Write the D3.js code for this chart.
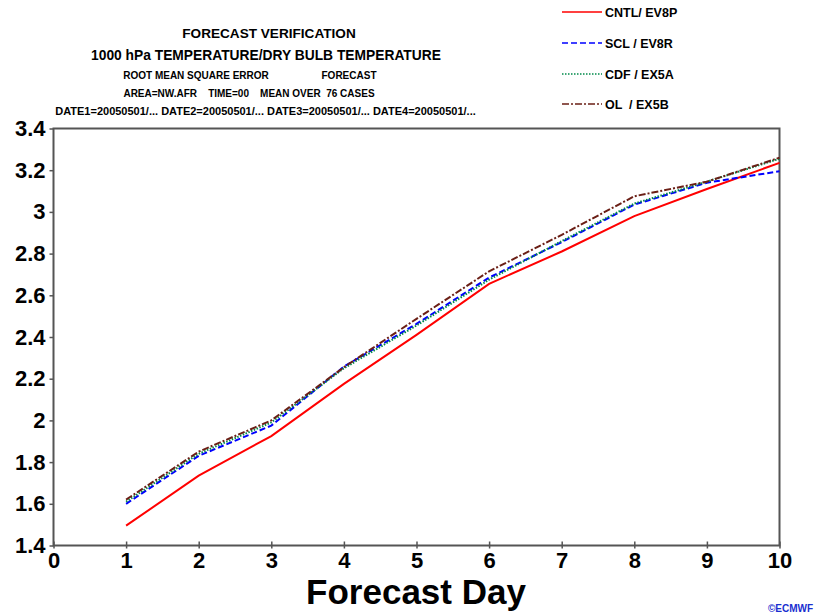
<!DOCTYPE html>
<html><head><meta charset="utf-8">
<script src="https://cdn.jsdelivr.net/npm/d3@7"></script>
<style>body{margin:0;background:#fff;} svg{display:block;font-family:"Liberation Sans",Arial,Helvetica,sans-serif;}</style>
</head><body><svg id="c" width="834" height="614"></svg>
<script>
const days = [1,2,3,4,5,6,7,8,9,10];
const cntl = [1.495,1.735,1.925,2.175,2.41,2.655,2.81,2.98,3.11,3.235];
const scl  = [1.60,1.83,1.975,2.258,2.463,2.685,2.855,3.035,3.14,3.195];
const cdf  = [1.61,1.84,1.99,2.25,2.455,2.675,2.86,3.04,3.145,3.255];
const ol   = [1.62,1.85,2.00,2.255,2.487,2.715,2.89,3.075,3.145,3.26];
const seriesNames = ["CNTL/ EV8P","SCL / EV8R","CDF / EX5A","OL  / EX5B"];
const xTicks = [0,1,2,3,4,5,6,7,8,9,10];
const yTicks = [1.4,1.6,1.8,2,2.2,2.4,2.6,2.8,3,3.2,3.4];
const titleLines = ["FORECAST VERIFICATION","1000 hPa TEMPERATURE/DRY BULB TEMPERATURE"];
const subLines = ["ROOT MEAN SQUARE ERROR","FORECAST","AREA=NW.AFR    TIME=00    MEAN OVER  76 CASES","DATE1=20050501/... DATE2=20050501/... DATE3=20050501/... DATE4=20050501/..."];

const styles = [
  {color:"#ff0000", dash:null},
  {color:"#0000ff", dash:"6,3"},
  {color:"#008a4a", dash:"1.5,1.5"},
  {color:"#6b1f16", dash:"7,2,2,2"}
];
const data = [cntl,scl,cdf,ol];

const svg = d3.select("#c");
const L=53.5, R=779.5, T=128.5, B=545.5;
const x = d3.scaleLinear().domain([0,10]).range([L,R]);
const y = d3.scaleLinear().domain([1.4,3.4]).range([B,T]);

// titles
svg.append("text").attr("x",269).attr("y",38).attr("text-anchor","middle").attr("font-size",13.6).attr("font-weight","bold").text(titleLines[0]);
svg.append("text").attr("x",266).attr("y",60).attr("text-anchor","middle").attr("font-size",13.8).attr("font-weight","bold").text(titleLines[1]);
svg.append("text").attr("x",196).attr("y",79).attr("text-anchor","middle").attr("font-size",10).attr("font-weight","bold").text(subLines[0]);
svg.append("text").attr("x",349).attr("y",79).attr("text-anchor","middle").attr("font-size",10).attr("font-weight","bold").text(subLines[1]);
svg.append("text").attr("x",249).attr("y",97).attr("text-anchor","middle").attr("font-size",10).attr("font-weight","bold").style("white-space","pre").text(subLines[2]);
svg.append("text").attr("x",265.5).attr("y",115).attr("text-anchor","middle").attr("font-size",11).attr("font-weight","bold").text(subLines[3]);

// legend
const legY = [12,43,74,104];
seriesNames.forEach((n,i)=>{
  svg.append("line").attr("x1",562).attr("x2",602).attr("y1",legY[i]).attr("y2",legY[i])
    .attr("stroke",styles[i].color).attr("stroke-width",1.6).attr("stroke-dasharray",styles[i].dash);
  svg.append("text").attr("x",605).attr("y",legY[i]+5).attr("font-size",12.5).attr("font-weight","bold")
    .style("white-space","pre").text(n);
});

// frame
svg.append("rect").attr("x",L).attr("y",T).attr("width",R-L).attr("height",B-T)
  .attr("fill","none").attr("stroke","#555").attr("stroke-width",2);

// axes
const gx = svg.append("g").attr("transform",`translate(0,${B})`)
  .call(d3.axisBottom(x).tickValues(xTicks).tickFormat(d3.format("d")).tickSizeInner(4).tickSizeOuter(0).tickPadding(3));
gx.select(".domain").remove();
gx.selectAll(".tick line").attr("stroke","#555").attr("stroke-width",1.5).attr("y1",-4).attr("y2",3);
gx.selectAll(".tick text").attr("font-size",22).attr("font-weight","bold").attr("fill","#000").attr("font-family","'Liberation Sans',Arial,sans-serif");

const gy = svg.append("g").attr("transform",`translate(${L},0)`)
  .call(d3.axisLeft(y).tickValues(yTicks).tickFormat(d=>d3.format("")(+d.toFixed(1))).tickSizeInner(4).tickSizeOuter(0).tickPadding(4));
gy.select(".domain").remove();
gy.selectAll(".tick line").attr("stroke","#555").attr("stroke-width",1.5);
gy.selectAll(".tick text").attr("font-size",22).attr("font-weight","bold").attr("fill","#000").attr("font-family","'Liberation Sans',Arial,sans-serif");

// lines
const line = d3.line().x((d,i)=>x(days[i])).y(d=>y(d));
data.forEach((s,i)=>{
  svg.append("path").datum(s).attr("d",line).attr("fill","none")
    .attr("stroke",styles[i].color).attr("stroke-width",2)
    .attr("stroke-dasharray",styles[i].dash);
});

// x label
svg.append("text").attr("x",416).attr("y",604).attr("text-anchor","middle").attr("font-size",35).attr("font-weight","bold").text("Forecast Day");

// footer logo
svg.append("text").attr("x",768).attr("y",612).attr("font-size",10).attr("font-weight","bold").attr("fill","#1a2fd0").text("©ECMWF");
</script></body></html>
